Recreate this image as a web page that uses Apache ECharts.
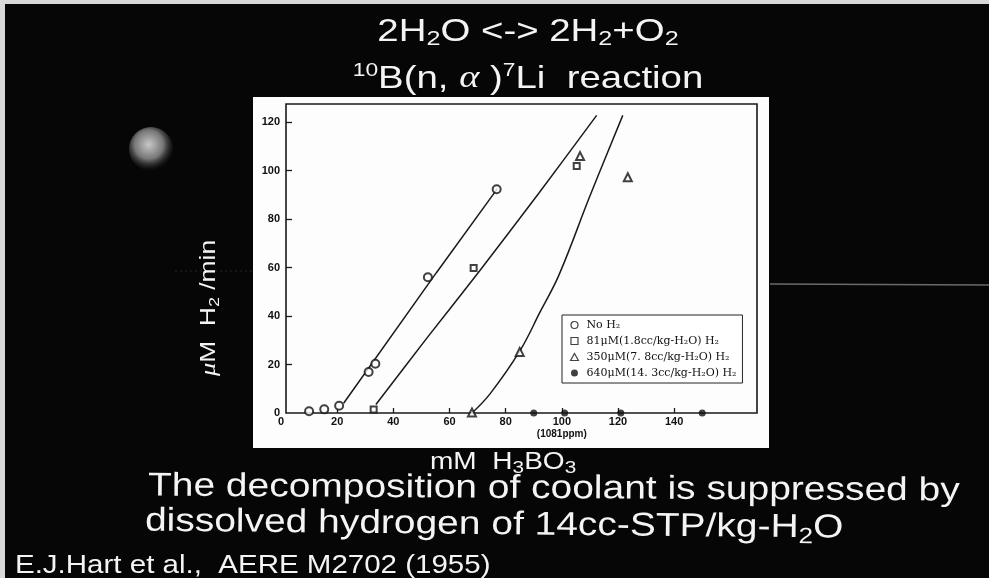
<!DOCTYPE html>
<html>
<head>
<meta charset="utf-8">
<script src="https://cdn.jsdelivr.net/npm/echarts@6/dist/echarts.min.js"></script>
<style>
  html, body { margin: 0; padding: 0; background: #060606; }
  #chart { width: 989px; height: 578px; }
</style>
</head>
<body>
<div id="chart"></div>
<script>
// tick labels
var xLabels = [0, 20, 40, 60, 80, 100, 120, 140];
var yLabels = [0, 20, 40, 60, 80, 100, 120];
var xTicks = [20, 40, 60, 80, 100, 120, 140];
var yTicks = [20, 40, 60, 80, 100, 120];

var seriesNames = ['No H₂', '81μM(1.8cc/kg-H₂O) H₂', '350μM(7. 8cc/kg-H₂O) H₂', '640μM(14. 3cc/kg-H₂O) H₂'];

// measured points [mM H3BO3, μM H2/min]
var noH2 = [[10, 0.7], [15.4, 1.5], [20.7, 3], [31.2, 16.9], [33.6, 20.3], [52.3, 56], [76.8, 92.3]];
var h81 = [[33, 1.4], [68.6, 59.8], [105.3, 101.9]];
var h350 = [[68, 0.2], [85, 25.2], [106.5, 106], [123.5, 97.3]];
var h640 = [[90, 0], [101, 0], [121, 0], [150, 0]];

// hand drawn curves
var fitNoH2 = [[22.3, 4], [55.4, 58], [77, 92.5]];
var fit81 = [[33.8, 3.5], [52, 31], [70.7, 58.6], [92, 91], [112.4, 122.8]];
var fit350 = [[68, 0], [74.5, 8], [85, 25.5], [92.4, 42], [99, 57], [110, 89.5], [121.7, 122.8]];

var SANS = 'Liberation Sans, Arial, sans-serif';
var SERIF = 'Liberation Serif, Times New Roman, serif';

function slideText(x, y, text, size, scaleX, align, rich, rotation, lineHeight) {
  return {
    type: 'text', x: x, y: y, z: 100, scaleX: scaleX, rotation: rotation || 0,
    style: {
      text: text, fill: '#f4f4f4', fontSize: size, fontFamily: SANS,
      lineHeight: lineHeight, align: align, textAlign: align,
      verticalAlign: 'middle', textVerticalAlign: 'middle', rich: rich || {}
    }
  };
}
function sub(size, h, va) {
  return { fontSize: size, fontFamily: SANS, fill: '#f4f4f4', lineHeight: h, verticalAlign: va || 'bottom' };
}
var hollow = { color: '#fff', borderColor: '#111', borderWidth: 1.2 };

var myChart = echarts.init(document.getElementById('chart'));
myChart.setOption({
  backgroundColor: '#060606',
  animation: false,
  graphic: [
    { type: 'rect', z: -10, shape: { x: 0, y: 0, width: 989, height: 4 }, style: { fill: '#d8d8d8' } },
    { type: 'rect', z: -10, shape: { x: 0, y: 0, width: 5, height: 578 }, style: { fill: '#d8d8d8' } },
    { type: 'line', z: -10, shape: { x1: 770, y1: 284, x2: 989, y2: 285 }, style: { stroke: '#6a6a6a', lineWidth: 1.5 } },
    { type: 'line', z: -10, shape: { x1: 175, y1: 271, x2: 253, y2: 271 }, style: { stroke: '#262626', lineWidth: 1, lineDash: [2, 3] } },
    {
      type: 'circle', z: -10, shape: { cx: 151, cy: 149, r: 22 },
      style: {
        fill: new echarts.graphic.RadialGradient(0.45, 0.4, 0.6, [
          { offset: 0, color: '#c8c8c8' },
          { offset: 0.55, color: '#767676' },
          { offset: 1, color: 'rgba(40,40,40,0)' }
        ])
      }
    },
    { type: 'rect', z: -5, shape: { x: 253, y: 97, width: 516, height: 351 }, style: { fill: '#fdfdfd' } },

    slideText(528, 32, '2H{s|2}O <-> 2H{s|2}+O{s|2}', 32, 1.2, 'center', { s: sub(21, 11.5) }, 0, 36),
    slideText(528, 79, '{u|10}B(n, {a|α} ){u|7}Li  reaction', 32, 1.2, 'center',
      { u: sub(19, 21, 'top'), a: { fontSize: 32, fontFamily: SERIF, fontStyle: 'italic', fill: '#f4f4f4' } }, 0, 36),
    slideText(209, 308, '{m|μ}M  H{s|2} /min', 22, 1.2, 'center',
      { s: sub(15, 9), m: { fontSize: 22, fontFamily: SERIF, fontStyle: 'italic', fill: '#f4f4f4' } }, Math.PI / 2, 26),
    slideText(430, 463, 'mM  H{s|3}BO{s|3}', 23, 1.22, 'left', { s: sub(17, 12.6) }, 0, 28),
    slideText(148, 486.5, 'The decomposition of coolant is suppressed by', 33, 1.18, 'left', {}, -0.006, 40),
    slideText(145, 521.5, 'dissolved hydrogen of 14cc-STP/kg-H{s|2}O', 33, 1.18, 'left', { s: sub(22, 16.4) }, -0.01, 40),
    slideText(15, 566, 'E.J.Hart et al.,  AERE M2702 (1955)', 25, 1.18, 'left', {}, 0, 30)
  ],
  grid: [
    { left: 281, top: 104, width: 476, height: 309 },
    { left: 286, top: 104, width: 471, height: 309, show: true, borderColor: '#1a1a1a', borderWidth: 1.6, backgroundColor: 'transparent' }
  ],
  legend: {
    data: [
      { name: seriesNames[0], icon: 'circle', itemStyle: hollow },
      { name: seriesNames[1], icon: 'path://M0 0H10V10H0Z', itemStyle: hollow },
      { name: seriesNames[2], icon: 'path://M5 0L10 9H0Z', itemStyle: hollow },
      { name: seriesNames[3] }
    ],
    orient: 'vertical',
    left: 562, top: 315,
    padding: [4, 6, 4, 8],
    itemGap: 4, itemWidth: 14, itemHeight: 7,
    backgroundColor: '#fff', borderColor: '#222', borderWidth: 1, borderRadius: 0,
    textStyle: { fontFamily: 'DejaVu Serif, serif', fontSize: 11, lineHeight: 12, color: '#111' }
  },
  xAxis: {
    gridIndex: 0, type: 'value', min: 0, max: 169.5,
    axisLine: { show: false },
    splitLine: { show: false },
    axisTick: { inside: true, length: 5, customValues: xTicks, lineStyle: { color: '#1a1a1a', width: 1.3 } },
    axisLabel: {
      customValues: xLabels, margin: 2, color: '#111', fontWeight: 'bold', fontSize: 11,
      fontFamily: SANS, lineHeight: 13,
      formatter: function (v) { return v === 100 ? '100\n{p|(1081ppm)}' : String(v); },
      rich: { p: { fontSize: 10, fontFamily: SANS, color: '#111', lineHeight: 13 } }
    }
  },
  yAxis: {
    gridIndex: 0, type: 'value', min: 0, max: 127.5, offset: -5,
    axisLine: { show: false },
    splitLine: { show: false },
    axisTick: { inside: true, length: 6, customValues: yTicks, lineStyle: { color: '#1a1a1a', width: 1.3 } },
    axisLabel: { customValues: yLabels, margin: 6, color: '#111', fontWeight: 'bold', fontSize: 11, fontFamily: SANS }
  },
  series: [
    { name: seriesNames[0], type: 'scatter', symbol: 'emptyCircle', symbolSize: 8, data: noH2,
      itemStyle: { color: '#111', borderWidth: 1.3 }, z: 5 },
    { name: seriesNames[1], type: 'scatter', symbol: 'emptyRect', symbolSize: 6, data: h81,
      itemStyle: { color: '#111', borderWidth: 1.3 }, z: 5 },
    { name: seriesNames[2], type: 'scatter', symbol: 'emptyTriangle', symbolSize: 8, data: h350,
      itemStyle: { color: '#111', borderWidth: 1.3 }, z: 5 },
    { name: seriesNames[3], type: 'scatter', symbol: 'circle', symbolSize: 7, data: h640,
      itemStyle: { color: '#111' }, z: 5 },
    { name: 'fitNoH2', type: 'line', data: fitNoH2, symbol: 'none', silent: true,
      lineStyle: { color: '#1a1a1a', width: 1.5 } },
    { name: 'fit81', type: 'line', data: fit81, symbol: 'none', smooth: 0.3, silent: true,
      lineStyle: { color: '#1a1a1a', width: 1.5 } },
    { name: 'fit350', type: 'line', data: fit350, symbol: 'none', smooth: 0.4, silent: true,
      lineStyle: { color: '#1a1a1a', width: 1.5 } }
  ]
});
</script>
</body>
</html>
